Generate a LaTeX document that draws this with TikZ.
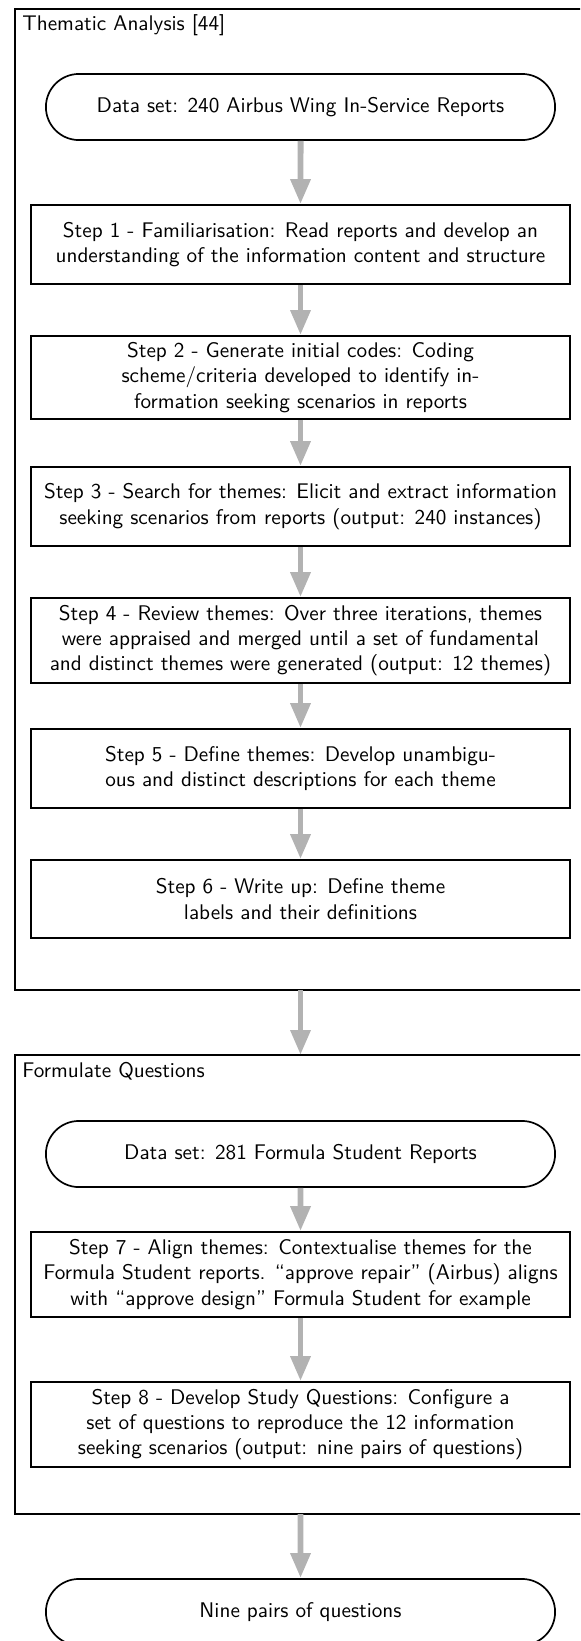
\documentclass[tikz,border=0pt]{standalone}
\usetikzlibrary{arrows.meta,shapes.misc}
\begin{document}
\begin{tikzpicture}[x=0.472pt,y=-0.472pt,
  font=\sffamily,
  stepbox/.style={draw=black, line width=0.8pt, rectangle, align=center, minimum width=254.4pt, inner sep=3pt},
  termbox/.style={draw=black, line width=0.8pt, rounded rectangle, align=center, minimum width=247pt, minimum height=31.2pt},
  groupline/.style={draw=black, line width=0.8pt},
  flow/.style={draw=black!30, line width=2.8pt, -{Triangle[length=11.8pt,width=9pt]}},
  grouptitle/.style={anchor=base west, inner sep=0pt}
]
\useasboundingbox (0,0) rectangle (580,1641);
\clip (0,0) rectangle (580,1641);

% group containers (right side runs off the picture)
\coordinate (g1nw) at (15,9);
\coordinate (g1sw) at (15,990);
\coordinate (g2nw) at (15,1055);
\coordinate (g2sw) at (15,1514);
\draw[groupline] ([xshift=0]g1nw -| 0,0) ++(640,0) -- (g1nw) -- (g1sw) -- ++(625,0);
\draw[groupline] (g2nw) ++(625,0) -- (g2nw) -- (g2sw) -- ++(625,0);
\node[grouptitle] (t1) at (22,30.5) {Thematic Analysis [44]};
\node[grouptitle] (t2) at (22,1077.5) {Formulate Questions};

% first group
\node[termbox] (d1) at (300.5,107) {Data set: 240 Airbus Wing In-Service Reports};
\node[stepbox, minimum height=37.3pt] (s1) at (300.5,244.5) {Step 1 - Familiarisation: Read reports and develop an\\understanding of the information content and structure};
\node[stepbox, minimum height=39.2pt] (s2) at (300.5,377.5) {Step 2 - Generate initial codes: Coding\\scheme/criteria developed to identify in-\\formation seeking scenarios in reports};
\node[stepbox, minimum height=37.3pt] (s3) at (300.5,506.5) {Step 3 - Search for themes: Elicit and extract information\\seeking scenarios from reports (output: 240 instances)};
\node[stepbox, minimum height=40.1pt] (s4) at (300.5,640.5) {Step 4 - Review themes: Over three iterations, themes\\were appraised and merged until a set of fundamental\\and distinct themes were generated (output: 12 themes)};
\node[stepbox, minimum height=37.3pt] (s5) at (300.5,768.5) {Step 5 - Define themes: Develop unambigu-\\ous and distinct descriptions for each theme};
\node[stepbox, minimum height=36.8pt] (s6) at (300.5,899) {Step 6 - Write up: Define theme\\labels and their definitions};

% second group
\node[termbox] (d2) at (300.5,1154) {Data set: 281 Formula Student Reports};
\node[stepbox, minimum height=40.1pt] (s7) at (300.5,1274.5) {Step 7 - Align themes: Contextualise themes for the\\Formula Student reports. ``approve repair'' (Airbus) aligns\\with ``approve design'' Formula Student for example};
\node[stepbox, minimum height=40.1pt] (s8) at (300.5,1424.5) {Step 8 - Develop Study Questions: Configure a\\set of questions to reproduce the 12 information\\seeking scenarios (output: nine pairs of questions)};

% result
\node[termbox] (d3) at (300.5,1612) {Nine pairs of questions};

% connectors
\draw[flow] (d1) -- (s1);
\draw[flow] (s1) -- (s2);
\draw[flow] (s2) -- (s3);
\draw[flow] (s3) -- (s4);
\draw[flow] (s4) -- (s5);
\draw[flow] (s5) -- (s6);
\draw[flow] (s6.south |- g1sw) -- (s6.south |- g2nw);
\draw[flow] (d2) -- (s7);
\draw[flow] (s7) -- (s8);
\draw[flow] (s8.south |- g2sw) -- (d3);
\end{tikzpicture}
\end{document}
